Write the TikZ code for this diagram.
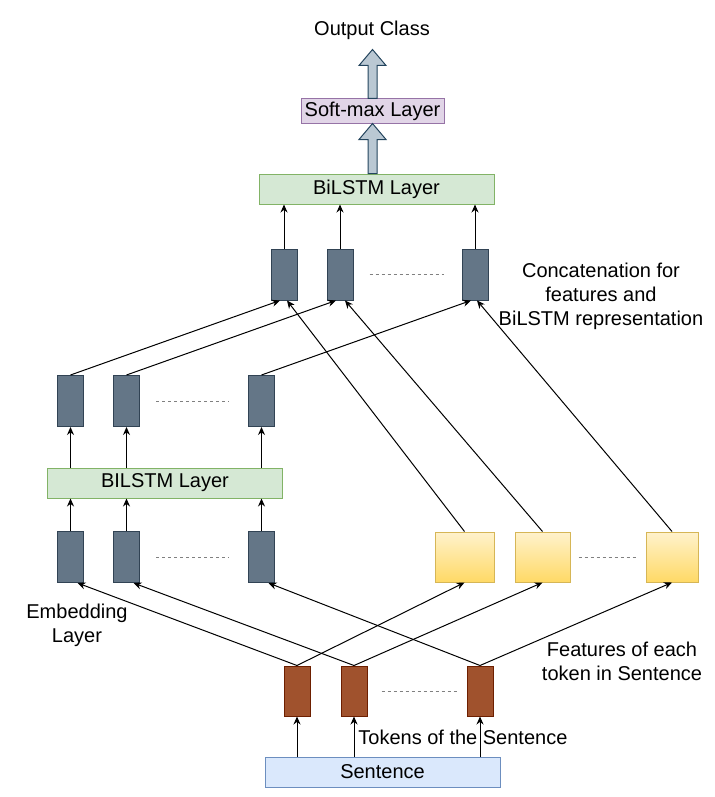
\documentclass[tikz,border=0pt]{standalone}
\usepackage{fontspec}
\setmainfont{Liberation Sans}
\usetikzlibrary{positioning,calc,arrows.meta}

\definecolor{cellfill}{HTML}{647687}
\definecolor{celldraw}{HTML}{314354}
\definecolor{tokfill}{HTML}{A0522D}
\definecolor{tokdraw}{HTML}{6D1F00}
\definecolor{feattop}{HTML}{FFF2CC}
\definecolor{featbot}{HTML}{FFD966}
\definecolor{featdraw}{HTML}{D6B656}
\definecolor{grfill}{HTML}{D5E8D4}
\definecolor{grdraw}{HTML}{82B366}
\definecolor{pufill}{HTML}{E1D5E7}
\definecolor{pudraw}{HTML}{9673A6}
\definecolor{blfill}{HTML}{DAE8FC}
\definecolor{bldraw}{HTML}{6C8EBF}
\definecolor{fatfill}{HTML}{BAC8D3}
\definecolor{fatdraw}{HTML}{23445D}

\tikzset{
  cell/.style={draw=celldraw,fill=cellfill,line width=0.5pt,minimum width=13pt,minimum height=25.5pt,inner sep=0pt},
  tok/.style={draw=tokdraw,fill=tokfill,line width=0.5pt,minimum width=13pt,minimum height=25pt,inner sep=0pt},
  feat/.style={draw=featdraw,top color=feattop,bottom color=featbot,line width=0.5pt,minimum height=25pt,inner sep=0pt},
  layer/.style={line width=0.5pt,minimum width=117.5pt,minimum height=15pt,inner sep=0pt},
  con/.style={-{Stealth[length=4pt,width=3.5pt]},line width=0.5pt},
  dots/.style={gray,line width=0.5pt,dash pattern=on 1.5pt off 1.5pt},
  fat/.style={draw=fatdraw,fill=fatfill,line width=0.5pt},
  every node/.style={font=\fontsize{10}{12}\selectfont}
}

\begin{document}
\begin{tikzpicture}[x=0.5pt,y=0.5pt]
		\useasboundingbox (0,0) rectangle (714,-797);

		% output side
		\node (out) at (372,-30) {Output Class};
		\node[draw=pudraw,fill=pufill,line width=0.5pt,minimum width=71.5pt,minimum height=12.5pt,inner sep=0pt] (soft) at (372.5,-111.5) {Soft-max Layer};
		\node[layer,draw=grdraw,fill=grfill] (bil2) at (376.5,-189) {BiLSTM Layer};

		\node[cell] (t1) at (284,-274.5) {};
		\node[cell,right=14.5pt of t1] (t2) {};
		\node[cell,right=54pt of t2] (t3) {};

		% embedding side
		\node[cell] (m1) at (70.5,-401) {};
		\node[cell,right=14.5pt of m1] (m2) {};
		\node[cell,right=54pt of m2] (m3) {};
		\node[layer,draw=grdraw,fill=grfill] (bil1) at (165,-483) {BILSTM Layer};
		\node[cell] (e1) at (70.5,-557) {};
		\node[cell,right=14.5pt of e1] (e2) {};
		\node[cell,right=54pt of e2] (e3) {};

		% features
		\node[feat,minimum width=29.5pt] (f1) at (464.5,-557) {};
		\node[feat,minimum width=27.5pt,right=10pt of f1] (f2) {};
		\node[feat,minimum width=26pt,right=37.5pt of f2] (f3) {};

		% tokens
		\node[tok] (b1) at (297,-691) {};
		\node[tok,right=15pt of b1] (b2) {};
		\node[tok,right=49.5pt of b2] (b3) {};
		\node[layer,draw=bldraw,fill=blfill] (sent) at (382.5,-772) {Sentence};

		% labels
		\node[align=center] (concat) at (601,-296) {Concatenation for\\features and\\BiLSTM representation};
		\node[align=center] (embed) at (77,-625) {Embedding\\Layer};
		\node[align=center] (feats) at (622,-661) {Features of each\\token in Sentence};
		\node[anchor=west,inner sep=0pt] (toks) at (358,-737) {Tokens of the Sentence};

		% dotted gaps
		\draw[dots] ($(t2.east)+(16,0)$)--($(t3.west)+(-18,0)$);
		\draw[dots] ($(m2.east)+(16,0)$)--($(m3.west)+(-19,0)$);
		\draw[dots] ($(e2.east)+(16,0)$)--($(e3.west)+(-19,0)$);
		\draw[dots] ($(f2.east)+(8,0)$)--($(f3.west)+(-10,0)$);
		\draw[dots] ($(b2.east)+(14,0)$)--($(b3.west)+(-8,0)$);

		% big arrows
		\draw[fat] ($(soft.north)+(-4.5,0)$) -- ++(0,33) -- ++(-9,0) -- ++(13.5,16) -- ++(13.5,-16) -- ++(-9,0) -- ++(0,-33) -- cycle;
		\draw[fat] ($(soft.south |- bil2.north)+(-4.5,0)$) -- ++(0,34) -- ++(-9,0) -- ++(13.5,16) -- ++(13.5,-16) -- ++(-9,0) -- ++(0,-34) -- cycle;

		% connectors
		\draw[con] (b1.south |- sent.north)--(b1.south);
		\draw[con] (b2.south |- sent.north)--(b2.south);
		\draw[con] (b3.south |- sent.north)--(b3.south);

		\draw[con] (b1.north)--(f1.south);
		\draw[con] (b2.north)--(f2.south);
		\draw[con] (b3.north)--(f3.south);
		\draw[con] (b1.north)--([xshift=3.5pt]e1.south);
		\draw[con] (b2.north)--([xshift=3.5pt]e2.south);
		\draw[con] (b3.north)--([xshift=3.5pt]e3.south);

		\draw[con] (e1.north)--(e1.north |- bil1.south);
		\draw[con] (e2.north)--(e2.north |- bil1.south);
		\draw[con] (e3.north)--(e3.north |- bil1.south);
		\draw[con] (m1.south |- bil1.north)--(m1.south);
		\draw[con] (m2.south |- bil1.north)--(m2.south);
		\draw[con] (m3.south |- bil1.north)--(m3.south);

		\draw[con] (m1.north)--([xshift=-2pt]t1.south);
		\draw[con] (m2.north)--([xshift=-2pt]t2.south);
		\draw[con] (m3.north)--([xshift=-2pt]t3.south);
		\draw[con] (f1.north)--([xshift=1.5pt]t1.south);
		\draw[con] (f2.north)--([xshift=2.5pt]t2.south);
		\draw[con] (f3.north)--([xshift=1pt]t3.south);

		\draw[con] (t1.north)--(t1.north |- bil2.south);
		\draw[con] (t2.north)--(t2.north |- bil2.south);
		\draw[con] (t3.north)--(t3.north |- bil2.south);
	\end{tikzpicture}
\end{document}
